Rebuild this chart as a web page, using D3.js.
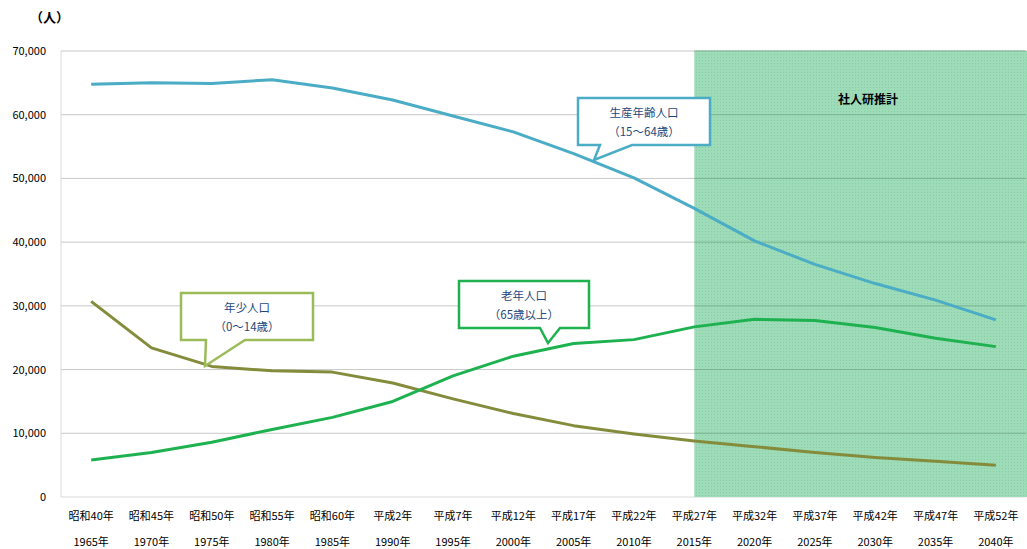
<!DOCTYPE html><html><head><meta charset="utf-8"><script src="https://cdn.jsdelivr.net/npm/d3@7"></script>
<style>body{margin:0;background:#fff}text{font-family:"Noto Sans CJK JP",sans-serif}</style></head><body><svg id="c" width="1027" height="549"></svg>
<script>
const wareki=["昭和40年","昭和45年","昭和50年","昭和55年","昭和60年","平成2年","平成7年","平成12年","平成17年","平成22年","平成27年","平成32年","平成37年","平成42年","平成47年","平成52年"];
const years=["1965年","1970年","1975年","1980年","1985年","1990年","1995年","2000年","2005年","2010年","2015年","2020年","2025年","2030年","2035年","2040年"];
const working=[64800,65000,64900,65500,64200,62300,59800,57300,53900,50100,45300,40200,36500,33500,30900,27800];
const youth=[30700,23400,20500,19800,19600,17900,15400,13100,11200,9900,8800,7900,7000,6200,5600,5000];
const elderly=[5800,7000,8600,10600,12500,15000,19000,22100,24100,24700,26700,27900,27700,26600,24900,23600];
const yTicks=[0,10000,20000,30000,40000,50000,60000,70000];
const svg=d3.select("#c");
const L=61,R=1026,T=51,B=497;
const x=d3.scalePoint().domain(d3.range(16)).range([L,R]).padding(0.5);
const y=d3.scaleLinear().domain([0,70000]).range([B,T]);
const defs=svg.append("defs");
const p=defs.append("pattern").attr("id","pt").attr("width",3).attr("height",3).attr("patternUnits","userSpaceOnUse");
p.append("rect").attr("width",3).attr("height",3).attr("fill","#9edbb8");
p.append("rect").attr("width",1).attr("height",1).attr("fill","#86cfa3");
svg.append("g").selectAll("line").data(yTicks).join("line").attr("x1",L).attr("x2",R).attr("y1",d=>y(d)).attr("y2",d=>y(d)).attr("stroke",(d)=>d===0?"#d9d9d9":"#c8c8c8").attr("stroke-width",1);
svg.append("rect").attr("x",x(10)).attr("y",T).attr("width",R-x(10)+1).attr("height",B-T).attr("fill","url(#pt)");
svg.append("g").selectAll("line").data(yTicks.filter(d=>d>0)).join("line").attr("x1",x(10)).attr("x2",R).attr("y1",d=>y(d)).attr("y2",d=>y(d)).attr("stroke","#7bb393").attr("stroke-width",1);
svg.append("line").attr("x1",L).attr("x2",L).attr("y1",T).attr("y2",B).attr("stroke","#d9d9d9");
svg.append("g").selectAll("text").data(yTicks).join("text").attr("x",46).attr("y",d=>y(d)+4).attr("text-anchor","end").attr("font-size",11).text(d=>d3.format(",")(d));
svg.append("g").selectAll("text").data(wareki).join("text").attr("x",(d,i)=>x(i)).attr("y",520).attr("text-anchor","middle").attr("font-size",11).text(d=>d);
svg.append("g").selectAll("text").data(years).join("text").attr("x",(d,i)=>x(i)).attr("y",546).attr("text-anchor","middle").attr("font-size",11).text(d=>d);
svg.append("text").attr("x",30).attr("y",22).attr("font-size",13).attr("font-weight","bold").text("（人）");
svg.append("text").attr("x",868).attr("y",104).attr("text-anchor","middle").attr("font-size",12).attr("font-weight","bold").text("社人研推計");
const line=d3.line().x((d,i)=>x(i)).y(d=>y(d));
[[working,"#4bacc6"],[youth,"#848c3c"],[elderly,"#1db150"]].forEach(([d,c])=>svg.append("path").attr("d",line(d)).attr("fill","none").attr("stroke",c).attr("stroke-width",3).attr("stroke-linejoin","round"));
function callout(x0,y0,w,h,t1,t2,tx,ty,bx1,bx2,c){
 svg.append("path").attr("d",`M${x0},${y0}H${x0+w}V${y0+h}H${bx2}L${tx},${ty}L${bx1},${y0+h}H${x0}Z`).attr("fill","#fff").attr("stroke",c).attr("stroke-width",2.5);
 svg.append("text").attr("x",x0+w/2).attr("y",y0+19).attr("text-anchor","middle").attr("font-size",11.5).attr("fill","#1f497d").text(t1);
 svg.append("text").attr("x",x0+w/2).attr("y",y0+38).attr("text-anchor","middle").attr("font-size",11.5).attr("fill","#1f497d").text(t2);
}
callout(578,98,132,47,"生産年齢人口","（15～64歳）",594,160,600,632,"#4bacc6");
callout(181,293,132,47,"年少人口","（0～14歳）",205,366,206,245,"#9bbb59");
callout(459,281,130,47,"老年人口","（65歳以上）",548,343,540,560,"#1db150");
</script></body></html>
